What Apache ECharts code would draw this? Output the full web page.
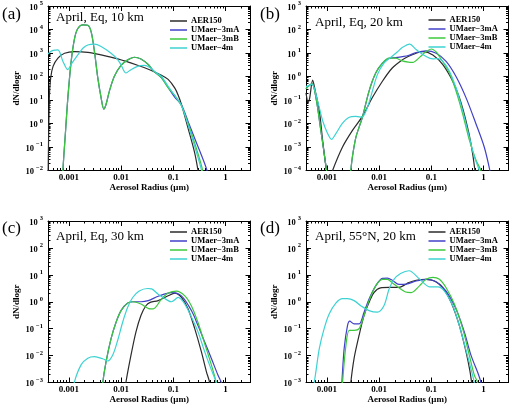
<!DOCTYPE html>
<html><head><meta charset="utf-8">
<script src="https://cdn.jsdelivr.net/npm/echarts@6/dist/echarts.min.js"></script>
<style>html,body{margin:0;padding:0;background:#fff}#c{width:518px;height:409px}</style>
</head><body><div id="c"></div>
<script>
// ---- labels ----
const seriesNames = ['AER150', 'UMaer\u22123mA', 'UMaer\u22123mB', 'UMaer\u22124m'];
const seriesColors = ['#2b2b2b', '#4040c8', '#3cc83c', '#3cd2d2'];
const panelLetters = ['(a)', '(b)', '(c)', '(d)'];
const panelTitles = ['April, Eq, 10 km', 'April, Eq, 20 km', 'April, Eq, 30 km', 'April, 55\u00b0N, 20 km'];
const xTickValues = [0.001, 0.01, 0.1, 1];
const xRange = [4e-4, 3];
const yExpRanges = [[-2, 5], [-4, 3], [-3, 3], [-3, 3]];

// ---- panel (a) April, Eq, 10 km : [radius um, dN/dlogr] ----
const aAER150 = [[4.0e-4,0.003],[4.24e-4,12],[4.5e-4,87],[5.0e-4,270],[6.2e-4,600],[8.3e-4,980],[1.29e-3,1150],[2.31e-3,1070],[4.15e-3,830],[8.63e-3,560],[0.0207,300],[0.0361,190],[0.0594,112],[0.0796,75],[0.107,32],[0.124,16],[0.143,6.5],[0.192,0.62],[0.257,0.055],[0.297,0.01],[0.33,0.002]];
const a3mA = [[7.5e-4,0.002],[7.7e-4,0.01],[8.6e-4,0.37],[9.6e-4,12.6],[1.11e-3,440],[1.29e-3,4200],[1.49e-3,11000],[1.86e-3,15800],[2.31e-3,15100],[2.68e-3,7900],[3.1e-3,1150],[3.59e-3,87],[4.15e-3,12.6],[4.67e-3,4.1],[5.17e-3,6.6],[5.98e-3,24],[7.45e-3,102],[9.98e-3,295],[0.0134,510],[0.0179,660],[0.024,560],[0.0331,324],[0.0419,170],[0.0594,88],[0.0796,34],[0.107,13],[0.143,6.3],[0.192,1.2],[0.257,0.23],[0.344,0.046],[0.441,0.01],[0.5,0.002]];
const a3mB = [[7.5e-4,0.002],[7.7e-4,0.01],[8.6e-4,0.37],[9.6e-4,12.6],[1.11e-3,440],[1.29e-3,4200],[1.49e-3,11000],[1.86e-3,15800],[2.31e-3,15100],[2.68e-3,7900],[3.1e-3,1150],[3.59e-3,87],[4.15e-3,12.6],[4.67e-3,4.1],[5.17e-3,6.6],[5.98e-3,24],[7.45e-3,102],[9.98e-3,295],[0.0134,510],[0.0179,660],[0.024,560],[0.0331,324],[0.0419,170],[0.0594,88],[0.0796,33],[0.107,15.5],[0.143,5.7],[0.192,1.0],[0.257,0.145],[0.344,0.017],[0.37,0.008],[0.42,0.001]];
const a4m = [[4.0e-4,900],[4.5e-4,1150],[5.0e-4,1300],[6.2e-4,1350],[7.7e-4,450],[9.6e-4,195],[1.11e-3,330],[1.49e-3,830],[1.86e-3,1600],[2.31e-3,2200],[3.1e-3,2400],[4.15e-3,1900],[6.44e-3,980],[8.63e-3,525],[9.98e-3,316],[0.0124,141],[0.0155,195],[0.0207,270],[0.0278,295],[0.0361,235],[0.0484,138],[0.0594,100],[0.0796,38],[0.107,15.5],[0.143,5.8],[0.192,0.85],[0.257,0.105],[0.344,0.011],[0.37,0.004]];

// ---- panel (b) April, Eq, 20 km ----
const bAER150 = [[4.0e-4,0.2],[4.4e-4,0.08],[4.7e-4,0.12],[5.36e-4,0.7],[6.0e-4,0.25],[7.2e-4,0.035],[8.3e-4,0.002],[9.6e-4,1.5e-4],[1.05e-3,5e-5],[1.15e-3,4e-5],[1.29e-3,1e-4],[2.0e-3,1.0e-3],[3.1e-3,5.1e-3],[4.8e-3,0.02],[7.45e-3,0.127],[0.0116,0.63],[0.0179,2.3],[0.0278,5.1],[0.0361,7.1],[0.0514,9.8],[0.0689,11.5],[0.107,8.3],[0.166,3.2],[0.257,0.63],[0.344,0.127],[0.461,0.013],[0.574,1.4e-3],[0.684,1e-4],[0.75,1e-5]];
const b3mA = [[4.0e-4,0.3],[4.24e-4,0.35],[5.2e-4,0.5],[6.2e-4,0.125],[7.7e-4,5e-3],[9.9e-4,1e-4],[1.05e-3,3e-5],[2.7e-3,2e-5],[2.88e-3,1e-4],[3.1e-3,4e-4],[3.59e-3,2.5e-3],[4.15e-3,7e-3],[4.8e-3,0.0185],[6.44e-3,0.24],[8.63e-3,1.4],[0.0116,3.7],[0.0155,6.0],[0.0207,6.3],[0.0278,7.0],[0.0361,7.8],[0.0514,10.5],[0.0796,12.4],[0.124,9.8],[0.192,4.4],[0.297,1.0],[0.461,0.126],[0.714,9.8e-3],[1.03,1e-3],[1.32,1e-4],[1.4,4e-5]];
const b3mB = [[4.0e-4,0.3],[4.24e-4,0.35],[5.2e-4,0.5],[6.2e-4,0.125],[7.7e-4,5e-3],[9.9e-4,1e-4],[1.05e-3,3e-5],[2.7e-3,2e-5],[2.88e-3,1e-4],[3.1e-3,4e-4],[3.59e-3,2.5e-3],[4.15e-3,7e-3],[4.8e-3,0.0185],[6.44e-3,0.24],[8.63e-3,1.4],[0.0116,3.7],[0.0155,6.0],[0.0207,6.0],[0.0278,4.6],[0.0361,4.1],[0.0444,4.0],[0.0594,6.5],[0.0796,11.5],[0.1007,14.8],[0.124,11],[0.143,7.1],[0.222,1.4],[0.297,0.24],[0.398,0.026],[0.533,2e-3],[0.714,2.8e-4],[0.89,1e-4],[1.0,3e-5]];
const b4m = [[4.0e-4,0.38],[4.24e-4,0.39],[5.2e-4,0.46],[6.67e-4,0.09],[8.3e-4,0.0134],[1.04e-3,3.7e-3],[1.23e-3,2.1e-3],[1.49e-3,3.7e-3],[2.0e-3,0.0103],[2.68e-3,0.0185],[3.59e-3,0.02],[4.67e-3,0.0185],[5.98e-3,0.048],[7.45e-3,0.24],[9.3e-3,1.2],[0.0124,3.7],[0.0167,6.5],[0.0223,11],[0.0278,17],[0.0384,24],[0.0514,14],[0.0796,7.1],[0.107,5.6],[0.133,5.8],[0.166,4.4],[0.222,1.66],[0.297,0.33],[0.398,0.035],[0.533,2.7e-3],[0.664,3.9e-4],[0.828,1e-4],[0.9,3e-5]];

// ---- panel (c) April, Eq, 30 km ----
const cAER150 = [[0.0118,3e-4],[0.0124,1e-3],[0.0155,0.0104],[0.0193,0.076],[0.024,0.31],[0.0299,0.71],[0.0361,0.95],[0.0514,1.1],[0.0796,1.66],[0.107,2.1],[0.143,1.45],[0.192,0.54],[0.257,0.1],[0.344,0.014],[0.428,2.6e-3],[0.496,1e-3],[0.55,3e-4]];
const c3mA = [[4.3e-3,3e-4],[4.47e-3,1e-3],[5.17e-3,6e-3],[6.44e-3,0.043],[8.0e-3,0.17],[9.98e-3,0.47],[0.0134,0.89],[0.0179,1.0],[0.024,1.0],[0.0331,1.1],[0.0514,1.6],[0.0923,2.2],[0.143,1.66],[0.222,0.47],[0.297,0.13],[0.398,0.032],[0.533,8e-3],[0.714,1.9e-3],[0.828,1e-3],[0.9,5e-4]];
const c3mB = [[4.3e-3,3e-4],[4.47e-3,1e-3],[5.17e-3,6e-3],[6.44e-3,0.043],[8.0e-3,0.17],[9.98e-3,0.47],[0.0134,0.89],[0.0167,1.0],[0.024,0.82],[0.0361,0.54],[0.0413,0.54],[0.0594,1.26],[0.0796,2.1],[0.115,2.5],[0.166,1.66],[0.222,0.7],[0.297,0.17],[0.398,0.028],[0.533,4.6e-3],[0.664,1e-3],[0.75,3e-4]];
const c4m = [[1.15e-3,3e-4],[1.29e-3,1.1e-3],[1.73e-3,4.6e-3],[2.31e-3,8e-3],[3.1e-3,9.1e-3],[4.47e-3,7.6e-3],[5.56e-3,6.3e-3],[6.93e-3,0.0105],[8.63e-3,0.037],[0.0107,0.17],[0.0134,0.62],[0.0167,1.44],[0.0223,2.5],[0.0322,3.1],[0.0384,3.0],[0.0514,1.9],[0.0796,1.1],[0.0923,1.0],[0.124,1.45],[0.166,0.82],[0.222,0.27],[0.297,0.076],[0.398,0.014],[0.533,3e-3],[0.664,1e-3],[0.75,3e-4]];

// ---- panel (d) April, 55N, 20 km ----
const dAER150 = [[2.75e-3,3e-4],[2.88e-3,1e-3],[3.33e-3,7.9e-3],[4.15e-3,0.057],[5.17e-3,0.31],[6.44e-3,0.95],[8.0e-3,2.2],[0.0107,3.3],[0.0155,3.4],[0.024,3.4],[0.0322,4.4],[0.0361,5.1],[0.0514,6.3],[0.0796,6.8],[0.115,5.9],[0.166,3.3],[0.239,0.95],[0.344,0.13],[0.461,0.014],[0.55,2.6e-3],[0.591,1e-3],[0.65,3e-4]];
const d3mA = [[1.85e-3,3e-4],[1.94e-3,1e-3],[2.15e-3,0.0186],[2.49e-3,0.13],[2.75e-3,0.19],[3.33e-3,0.15],[4.15e-3,0.15],[5.17e-3,0.41],[6.44e-3,1.26],[8.63e-3,3.9],[0.0116,7.4],[0.0144,7.5],[0.0179,6.3],[0.024,4.4],[0.0331,4.5],[0.0514,5.9],[0.0796,6.8],[0.124,5.5],[0.192,2.5],[0.297,0.54],[0.428,0.076],[0.574,0.0104],[0.805,1.9e-3],[0.89,1e-3],[0.95,4e-4]];
const d3mB = [[1.9e-3,3e-4],[2.0e-3,1e-3],[2.3e-3,0.02],[2.68e-3,0.087],[3.33e-3,0.087],[4.15e-3,0.1],[5.17e-3,0.31],[6.44e-3,1.1],[8.63e-3,3.9],[0.0116,6.8],[0.0144,6.8],[0.0179,5.1],[0.024,3.3],[0.0322,2.3],[0.0413,2.2],[0.0594,3.9],[0.0796,6.8],[0.107,8.1],[0.143,6.8],[0.192,3.3],[0.276,0.82],[0.398,0.1],[0.533,0.0104],[0.664,1.9e-3],[0.77,1e-3],[0.85,3e-4]];
const d4m = [[5.5e-4,3e-4],[5.77e-4,1e-3],[6.2e-4,2.6e-3],[7.2e-4,0.0186],[8.9e-4,0.1],[1.11e-3,0.35],[1.49e-3,0.89],[2.0e-3,1.3],[2.49e-3,1.3],[3.33e-3,1.1],[4.47e-3,0.71],[6.44e-3,0.47],[9.3e-3,0.41],[0.0124,0.71],[0.0155,2.9],[0.0193,6.8],[0.0258,11.2],[0.0374,14.2],[0.0594,7.0],[0.0923,3.6],[0.133,3.6],[0.178,2.5],[0.257,0.71],[0.344,0.13],[0.461,0.016],[0.591,2.6e-3],[0.664,1e-3],[0.72,3e-4]];

const panelData = [
  [aAER150, a3mA, a3mB, a4m],
  [bAER150, b3mA, b3mB, b4m],
  [cAER150, c3mA, c3mB, c4m],
  [dAER150, d3mA, d3mB, d4m]
];

// ---- layout ----
const F = 'Liberation Serif';
const grids = [
  {left: 48, top: 6, width: 202.5, height: 164.5},
  {left: 306, top: 6, width: 202.5, height: 164.5},
  {left: 48, top: 221, width: 202.5, height: 161.5},
  {left: 306, top: 221, width: 202.5, height: 161.5}
];
const letterPos = [[2, 6], [260, 6], [2, 220], [260, 220]];
const titlePos = [[56, 11.5], [315, 16], [56, 230], [315, 230]];
const legendPos = [[170, 16.5, 6], [428.5, 15.5, 6], [170, 227.5, 8.3], [428.5, 227.5, 8.3]];

// decoration ticks (log minor ticks 2..9 per decade)
function minorVals(lo, hi) {
  const out = [];
  for (let e = lo; e <= hi; e++) for (let k = 2; k <= 9; k++) out.push(Number(k + 'e' + e));
  return out;
}
function majorVals(lo, hi) {
  const out = [];
  for (let e = lo; e <= hi; e++) out.push(Number('1e' + e));
  return out;
}
const lblStyle = {fontFamily: F, fontWeight: 'bold', color: '#000'};

const xAxis = [], yAxis = [], series = [], title = [], legend = [];
grids.forEach((g, gi) => {
  const xMinor = minorVals(-4, 0).filter(v => v > xRange[0] && v < xRange[1]);
  const xb = {type: 'log', logBase: 10, min: xRange[0], max: xRange[1], gridIndex: gi,
    splitLine: {show: false}, axisPointer: {show: false}};
  const line = {show: true, onZero: false, lineStyle: {color: '#000', width: 1}};
  xAxis.push(Object.assign({}, xb, {position: 'bottom', axisLine: line,
    axisTick: {show: true, inside: true, length: 5, customValues: xTickValues, lineStyle: {color: '#000'}},
    axisLabel: Object.assign({customValues: xTickValues, margin: 3, fontSize: 9,
      formatter: v => String(+(+v).toPrecision(2))}, lblStyle),
    name: 'Aerosol Radius (\u03bcm)', nameLocation: 'middle', nameGap: 13,
    nameTextStyle: Object.assign({fontSize: 9}, lblStyle)}));
  xAxis.push(Object.assign({}, xb, {position: 'bottom', axisLine: {show: false},
    axisTick: {show: true, inside: true, length: 2.5, customValues: xMinor, lineStyle: {color: '#000'}},
    axisLabel: {show: false}}));
  xAxis.push(Object.assign({}, xb, {position: 'top', axisLine: line,
    axisTick: {show: true, inside: true, length: 5, customValues: xTickValues, lineStyle: {color: '#000'}},
    axisLabel: {show: false}}));
  xAxis.push(Object.assign({}, xb, {position: 'top', axisLine: {show: false},
    axisTick: {show: true, inside: true, length: 2.5, customValues: xMinor, lineStyle: {color: '#000'}},
    axisLabel: {show: false}}));

  const [lo, hi] = yExpRanges[gi];
  const yMaj = majorVals(lo, hi), yMin = minorVals(lo, hi - 1);
  const yb = {type: 'log', logBase: 10, min: Number('1e' + lo), max: Number('1e' + hi), gridIndex: gi,
    splitLine: {show: false}, axisPointer: {show: false}};
  yAxis.push(Object.assign({}, yb, {position: 'left', axisLine: line,
    axisTick: {show: true, inside: true, length: 5, customValues: yMaj, lineStyle: {color: '#000'}},
    axisLabel: {customValues: yMaj, margin: 5,
      formatter: v => { const e = Math.round(Math.log10(v)); return '{m|10}{s|' + (e < 0 ? '\u2212' + (-e) : e) + '}'; },
      rich: {
        m: Object.assign({fontSize: 8.5, lineHeight: 12, verticalAlign: 'bottom'}, lblStyle),
        s: Object.assign({fontSize: 6.5, verticalAlign: 'top', padding: [0, 0, 0, 2]}, lblStyle)
      }},
    name: 'dN/dlogr', nameLocation: 'middle', nameGap: 23,
    nameTextStyle: Object.assign({fontSize: 9}, lblStyle)}));
  yAxis.push(Object.assign({}, yb, {position: 'left', axisLine: {show: false},
    axisTick: {show: true, inside: true, length: 2.5, customValues: yMin, lineStyle: {color: '#000'}},
    axisLabel: {show: false}}));
  yAxis.push(Object.assign({}, yb, {position: 'right', axisLine: line,
    axisTick: {show: true, inside: true, length: 5, customValues: yMaj, lineStyle: {color: '#000'}},
    axisLabel: {show: false}}));
  yAxis.push(Object.assign({}, yb, {position: 'right', axisLine: {show: false},
    axisTick: {show: true, inside: true, length: 2.5, customValues: yMin, lineStyle: {color: '#000'}},
    axisLabel: {show: false}}));

  panelData[gi].forEach((d, si) => {
    series.push({
      type: 'line', name: seriesNames[si], xAxisIndex: gi * 4, yAxisIndex: gi * 4,
      data: d, showSymbol: false, symbol: 'none', smooth: 0.3, clip: true,
      lineStyle: {color: seriesColors[si], width: 1.2}, itemStyle: {color: seriesColors[si]},
      animation: false, silent: true
    });
  });

  title.push({text: panelLetters[gi], left: letterPos[gi][0], top: letterPos[gi][1], padding: 0,
    textStyle: {fontFamily: F, fontSize: 17, fontWeight: 'normal', color: '#000'}});
  title.push({text: panelTitles[gi], left: titlePos[gi][0], top: titlePos[gi][1], padding: 0,
    textStyle: {fontFamily: F, fontSize: 13, fontWeight: 'normal', color: '#000'}});
  legend.push({data: seriesNames, left: legendPos[gi][0], top: legendPos[gi][1], orient: 'vertical',
    padding: 0, itemGap: 0, itemWidth: 17, itemHeight: 1.5, icon: 'rect', selectedMode: false,
    textStyle: {fontFamily: F, fontWeight: 'bold', fontSize: 8.5, color: '#000', lineHeight: legendPos[gi][2], padding: [0, 0, 0, -1]}});
});

const chart = echarts.init(document.getElementById('c'), null, {renderer: 'canvas', width: 518, height: 409});
chart.setOption({
  animation: false,
  backgroundColor: '#fff',
  grid: grids.map(g => Object.assign({containLabel: false, outerBoundsMode: 'none'}, g)),
  xAxis, yAxis, series, title, legend
});
</script></body></html>
